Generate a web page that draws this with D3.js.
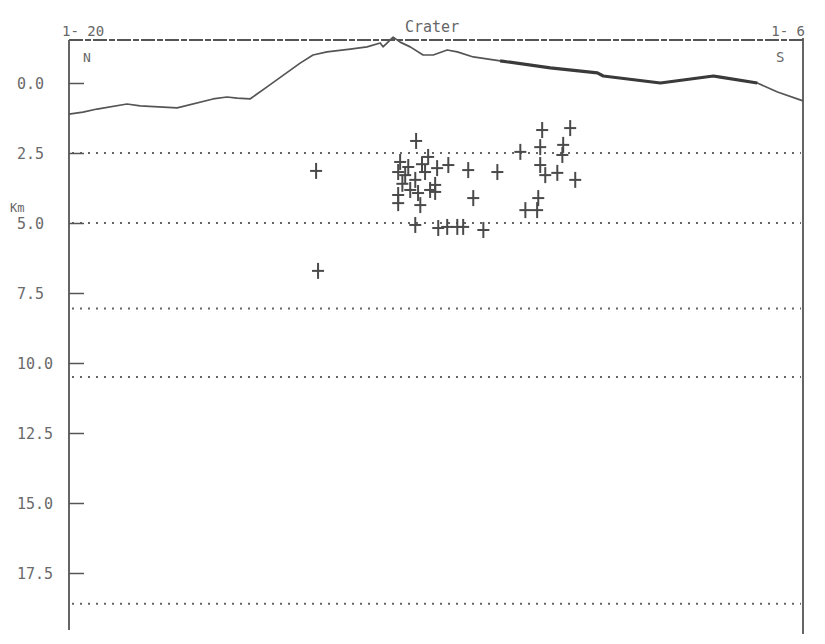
<!DOCTYPE html>
<html>
<head>
<meta charset="utf-8">
<script src="https://cdn.jsdelivr.net/npm/d3@7"></script>
<style>
  html, body { margin: 0; padding: 0; background: #fff; }
  svg text { font-family: "DejaVu Sans Mono", "Liberation Mono", monospace; fill: #666; }
</style>
</head>
<body>
<svg id="chart" width="825" height="644"></svg>
<script>
// Depth axis ticks (km below sea level)
const depthTicks = [0, 2.5, 5, 7.5, 10, 12.5, 15, 17.5];
// Depths of velocity-model layer boundaries (dotted lines)
const layerDepths = [2.5, 5.0, 8.05, 10.5, 18.6];

// Surface profile along the section: distance (km) and elevation (km)
const profileDist = [0, 0.5, 1.0, 2.07, 2.54, 3.86, 5.14, 5.64, 6.0, 6.46, 7.07, 8.25, 8.71, 9.21,
  10.04, 10.64, 11.11, 11.21, 11.57, 11.82, 12.18, 12.64, 13.0, 13.5, 13.86, 14.43, 15.39, 17.18,
  18.86, 19.07, 21.11, 23.0, 23.25, 24.57, 25.29, 26.2];
const profileElev = [-1.11, -1.04, -0.93, -0.75, -0.82, -0.89, -0.57, -0.50, -0.54, -0.57, -0.14, 0.71, 1.0, 1.11,
  1.21, 1.29, 1.43, 1.29, 1.64, 1.46, 1.29, 1.0, 1.0, 1.18, 1.11, 0.93, 0.79, 0.54,
  0.36, 0.25, 0.0, 0.25, 0.21, 0.0, -0.32, -0.64];

// Hypocentres: distance along section (km) and depth (km)
const quakeDist = [8.82, 8.89, 12.39, 12.82, 11.82, 13.14, 13.54, 11.75, 12.0, 12.36, 13.07, 11.75, 12.46,
  11.75, 12.54, 13.07, 12.36, 13.18, 13.5, 13.86, 16.11, 14.25, 15.29, 14.43, 16.29, 14.07, 14.79,
  16.89, 17.89, 16.82, 17.64, 17.61, 16.82, 17.0, 17.43, 18.07, 16.75, 16.71,
  12.11, 12.71, 12.89, 12.18, 11.9, 12.6];
const quakeDepth = [3.14, 6.71, 2.07, 2.64, 2.82, 3.04, 2.93, 3.18, 3.29, 3.46, 3.64, 4.0, 3.93,
  4.29, 4.36, 3.89, 5.07, 5.18, 5.14, 5.14, 2.46, 3.11, 3.18, 4.11, 4.54, 5.14, 5.25,
  1.68, 1.61, 2.29, 2.21, 2.57, 2.93, 3.29, 3.21, 3.46, 4.11, 4.54,
  3.0, 3.18, 3.82, 3.82, 3.6, 2.9];

// Text labels
const leftEndLabel = "1- 20";
const rightEndLabel = "1- 6";
const craterLabel = "Crater";
const northLabel = "N";
const southLabel = "S";
const depthUnit = "Km";

const svg = d3.select("#chart");

const x = d3.scaleLinear().domain([0, 26.2]).range([69, 803]);
const y = d3.scaleLinear().domain([0, 17.5]).range([83, 573]);
const ink = "#4a4a4a";

// Dotted layer boundaries
svg.append("g").selectAll("line").data(layerDepths).join("line")
  .attr("x1", x(0) + 3).attr("x2", x(26.2) - 2)
  .attr("y1", d => y(d)).attr("y2", d => y(d))
  .attr("stroke", "#666").attr("stroke-width", 2)
  .attr("stroke-dasharray", "2,6");

// Depth axis with ticks pointing into the plot
const axis = svg.append("g")
  .attr("transform", `translate(${x(0)},0)`)
  .call(d3.axisLeft(y).tickValues(depthTicks).tickSize(-15)
    .tickFormat(d3.format(".1f")));
axis.select(".domain").remove();
axis.selectAll(".tick line").attr("stroke", "#555").attr("stroke-width", 1.5);
axis.selectAll(".tick text")
  .attr("text-anchor", "start").attr("x", 17 - x(0)).attr("dy", "0.35em")
  .style("font-size", "15px").style("fill", "#6a6a6a");

// Frame: left and right borders, dashed top line
svg.append("line").attr("x1", x(0)).attr("x2", x(0))
  .attr("y1", 40).attr("y2", 630).attr("stroke", "#555").attr("stroke-width", 1.8);
svg.append("line").attr("x1", x(26.2)).attr("x2", x(26.2))
  .attr("y1", 38).attr("y2", 634).attr("stroke", "#555").attr("stroke-width", 1.8);
svg.append("line").attr("x1", x(0)).attr("x2", x(26.2))
  .attr("y1", 40).attr("y2", 40).attr("stroke", "#555").attr("stroke-width", 2.2)
  .attr("stroke-dasharray", "14,2,6,2");

// Surface profile
const profile = profileDist.map((d, i) => [d, profileElev[i]]);
const line = d3.line().x(d => x(d[0])).y(d => y(-d[1]));
svg.append("path").datum(profile).attr("d", line)
  .attr("fill", "none").attr("stroke", "#555").attr("stroke-width", 1.7)
  .attr("stroke-linejoin", "round");
// heavier stroke along the southern flank
svg.append("path").datum(profile.filter(d => d[0] >= 15.3 && d[0] <= 24.6)).attr("d", line)
  .attr("fill", "none").attr("stroke", "#3a3a3a").attr("stroke-width", 3.2)
  .attr("stroke-linejoin", "round");

// Hypocentres drawn as plus signs
const quakes = quakeDist.map((d, i) => [d, quakeDepth[i]]);
const g = svg.append("g").attr("stroke", ink).attr("stroke-width", 2);
quakes.forEach(q => {
  const cx = x(q[0]), cy = y(q[1]);
  g.append("line").attr("x1", cx - 6).attr("x2", cx + 6).attr("y1", cy).attr("y2", cy);
  g.append("line").attr("x1", cx).attr("x2", cx).attr("y1", cy - 8).attr("y2", cy + 8);
});

// Labels
svg.append("text").attr("x", 62).attr("y", 36).style("font-size", "14px").text(leftEndLabel);
svg.append("text").attr("x", 805).attr("y", 36).attr("text-anchor", "end").style("font-size", "14px").text(rightEndLabel);
svg.append("text").attr("x", 405).attr("y", 32).style("font-size", "15px").text(craterLabel);
svg.append("text").attr("x", 83).attr("y", 62).style("font-size", "13px").text(northLabel);
svg.append("text").attr("x", 776).attr("y", 62).style("font-size", "14px").text(southLabel);
svg.append("text").attr("x", 10).attr("y", 212).style("font-size", "12px").text(depthUnit);
</script>
</body>
</html>
